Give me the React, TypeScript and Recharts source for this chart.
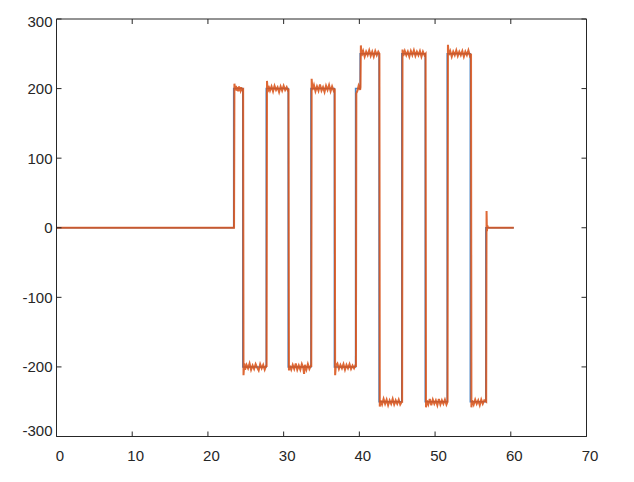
import { LineChart, Line, XAxis, YAxis } from 'recharts';

// reference signal (blue) – clean square wave, edges a touch ahead of the measured one
const blueTime = [
  0, 23.4, 23.4, 24.6, 24.6, 27.7, 27.7, 30.6, 30.6, 33.6, 33.6, 36.7, 36.7, 39.5, 39.5, 40.1,
  40.1, 42.6, 42.6, 45.6, 45.6, 48.7, 48.7, 51.6, 51.6, 54.65, 54.65, 56.7, 56.7, 60.4,
];
const blueValue = [
  0, 0, 200, 200, -200, -200, 200, 200, -200, -200, 200, 200, -200, -200, 200, 200,
  250, 250, -250, -250, 250, 250, -250, -250, 250, 250, -250, -250, 0, 0,
];

const orangeTime = [
  0, 23.45, 23.5, 23.6, 23.7, 23.8, 23.9, 24.0, 24.1, 24.2, 24.3, 24.4, 24.5, 24.65,
  24.7, 24.8, 24.9, 25.1, 25.3, 25.5, 25.7, 25.9, 26.1, 26.3, 26.5, 26.7, 26.9, 27.1, 27.3, 27.5, 27.7, 27.75,
  27.8, 27.9, 28.0, 28.2, 28.4, 28.6, 28.8, 29.0, 29.2, 29.4, 29.6, 29.8, 30.0, 30.2, 30.4, 30.6, 30.65,
  30.7, 30.8, 31.0, 31.2, 31.4, 31.6, 31.8, 32.0, 32.2, 32.4, 32.6, 32.7, 32.8, 33.0, 33.2, 33.4, 33.6, 33.65,
  33.7, 33.8, 34.0, 34.2, 34.4, 34.6, 34.8, 35.0, 35.2, 35.4, 35.6, 35.8, 36.0, 36.2, 36.4, 36.6, 36.75,
  36.8, 36.9, 37.1, 37.3, 37.5, 37.7, 37.9, 38.1, 38.3, 38.5, 38.7, 38.9, 39.1, 39.3, 39.5, 39.55,
  39.6, 39.75, 39.9, 40.1, 40.15,
  40.2, 40.3, 40.5, 40.7, 40.9, 41.1, 41.3, 41.5, 41.7, 41.9, 42.1, 42.3, 42.5, 42.65,
  42.7, 42.8, 43.0, 43.2, 43.4, 43.6, 43.8, 44.0, 44.2, 44.4, 44.6, 44.8, 45.0, 45.2, 45.4, 45.6, 45.65,
  45.7, 45.8, 46.0, 46.2, 46.4, 46.6, 46.8, 47.0, 47.2, 47.4, 47.6, 47.8, 48.0, 48.2, 48.4, 48.6, 48.75,
  48.8, 48.9, 49.1, 49.3, 49.5, 49.7, 49.9, 50.1, 50.3, 50.5, 50.7, 50.9, 51.1, 51.3, 51.5, 51.65,
  51.7, 51.8, 52.0, 52.2, 52.4, 52.6, 52.8, 53.0, 53.2, 53.4, 53.6, 53.8, 54.0, 54.2, 54.4, 54.6, 54.75,
  54.8, 54.9, 55.1, 55.3, 55.5, 55.7, 55.9, 56.1, 56.3, 56.5, 56.75,
  56.8, 56.85, 56.9, 57.0, 60.4,
];
const orangeValue = [
  0, 0, 207, 198, 204, 197, 202, 196, 203, 200, 197, 202, 198, 199,
  -212, -195, -204, -197, -202, -195, -204, -198, -203, -196, -201, -205, -196, -202, -197, -204, -198, -200,
  211, 195, 204, 197, 203, 196, 204, 198, 202, 195, 203, 197, 204, 198, 202, 196, 200,
  -205, -198, -204, -197, -203, -195, -204, -198, -204, -196, -202, -210, -197, -204, -196, -203, -198, -200,
  214, 198, 205, 196, 203, 197, 206, 197, 202, 195, 204, 198, 205, 196, 203, 197, 200,
  -212, -198, -195, -203, -197, -202, -196, -204, -197, -202, -196, -203, -198, -202, -197, -200,
  193, 197, 204, 198, 202,
  262, 247, 254, 246, 253, 248, 255, 247, 253, 246, 254, 248, 253, 250,
  -257, -248, -254, -246, -253, -247, -255, -248, -253, -246, -254, -248, -253, -247, -254, -250, -250,
  256, 247, 254, 248, 253, 246, 254, 248, 255, 247, 253, 248, 254, 246, 253, 248, 250,
  -258, -248, -254, -246, -255, -247, -253, -248, -255, -246, -254, -248, -253, -247, -254, -250,
  263, 248, 254, 246, 253, 248, 255, 247, 253, 248, 254, 246, 253, 248, 255, 247, 250,
  -258, -248, -254, -247, -253, -248, -255, -247, -253, -248, -250,
  24, -5, 3, 0, 0,
];

const xTicks = [0, 10, 20, 30, 40, 50, 60, 70];
const yTicks = [-300, -200, -100, 0, 100, 200, 300];

const blueData = blueTime.map((t, i) => ({ t, v: blueValue[i] }));
const orangeData = orangeTime.map((t, i) => ({ t, v: orangeValue[i] }));

const axisColor = '#262626';
const font = '"Liberation Sans", Arial, sans-serif';

const BottomTick = (props: any) => {
  const { x, y, payload } = props;
  return (
    <g>
      <line x1={x} y1={y} x2={x} y2={y - 5} stroke={axisColor} />
      <text x={x + 3.5} y={y + 24} textAnchor="middle" fill={axisColor} fontSize={15} fontFamily={font}>
        {payload.value}
      </text>
    </g>
  );
};

const TopTick = (props: any) => {
  const { x, y } = props;
  return <line x1={x} y1={y} x2={x} y2={y + 5} stroke={axisColor} />;
};

const LeftTick = (props: any) => {
  const { x, y, payload } = props;
  // matlab nudges the outermost labels inwards
  const shift = payload.value === 300 ? 2.5 : payload.value === -300 ? -6 : 0;
  return (
    <g>
      <line x1={x} y1={y} x2={x + 5} y2={y} stroke={axisColor} />
      <text x={x - 4} y={y + 5.4 + shift} textAnchor="end" fill={axisColor} fontSize={15} fontFamily={font}>
        {payload.value}
      </text>
    </g>
  );
};

const RightTick = (props: any) => {
  const { x, y } = props;
  return <line x1={x} y1={y} x2={x - 5} y2={y} stroke={axisColor} />;
};

export default function App() {
  return (
    <div style={{ position: 'absolute', left: 0, top: 0, background: '#fff' }}>
      <LineChart width={634} height={482} margin={{ top: 18, right: 46.5, bottom: 15.5, left: 16.5 }}>
        <XAxis
          xAxisId="b"
          dataKey="t"
          type="number"
          domain={[0, 70]}
          ticks={xTicks}
          interval={0}
          height={30}
          tickSize={0}
          tickMargin={0}
          tickLine={false}
          tick={BottomTick}
          stroke={axisColor}
          axisLine={{ stroke: axisColor, strokeWidth: 1 }}
          allowDataOverflow
        />
        <XAxis
          xAxisId="top"
          orientation="top"
          dataKey="t"
          type="number"
          domain={[0, 70]}
          ticks={xTicks}
          interval={0}
          height={1}
          tickSize={0}
          tickMargin={0}
          tickLine={false}
          tick={TopTick}
          stroke={axisColor}
          axisLine={{ stroke: axisColor, strokeWidth: 1 }}
          allowDataOverflow
        />
        <YAxis
          yAxisId="l"
          type="number"
          domain={[-300, 300]}
          ticks={yTicks}
          interval={0}
          width={40}
          tickSize={0}
          tickMargin={0}
          tickLine={false}
          tick={LeftTick}
          stroke={axisColor}
          axisLine={{ stroke: axisColor, strokeWidth: 1 }}
          allowDataOverflow
        />
        <YAxis
          yAxisId="right"
          orientation="right"
          type="number"
          domain={[-300, 300]}
          ticks={yTicks}
          interval={0}
          width={1}
          tickSize={0}
          tickMargin={0}
          tickLine={false}
          tick={RightTick}
          stroke={axisColor}
          axisLine={{ stroke: axisColor, strokeWidth: 1 }}
          allowDataOverflow
        />
        <Line
          xAxisId="b"
          yAxisId="l"
          data={blueData}
          dataKey="v"
          stroke="#4a86c8"
          strokeWidth={1.5}
          dot={false}
          isAnimationActive={false}
        />
        <Line
          xAxisId="b"
          yAxisId="l"
          data={orangeData}
          dataKey="v"
          stroke="#D95319"
          strokeOpacity={0.88}
          strokeWidth={2}
          dot={false}
          isAnimationActive={false}
        />
        <Line
          xAxisId="top"
          yAxisId="right"
          data={orangeData}
          dataKey="v"
          stroke="none"
          dot={false}
          legendType="none"
          isAnimationActive={false}
        />
      </LineChart>
    </div>
  );
}
